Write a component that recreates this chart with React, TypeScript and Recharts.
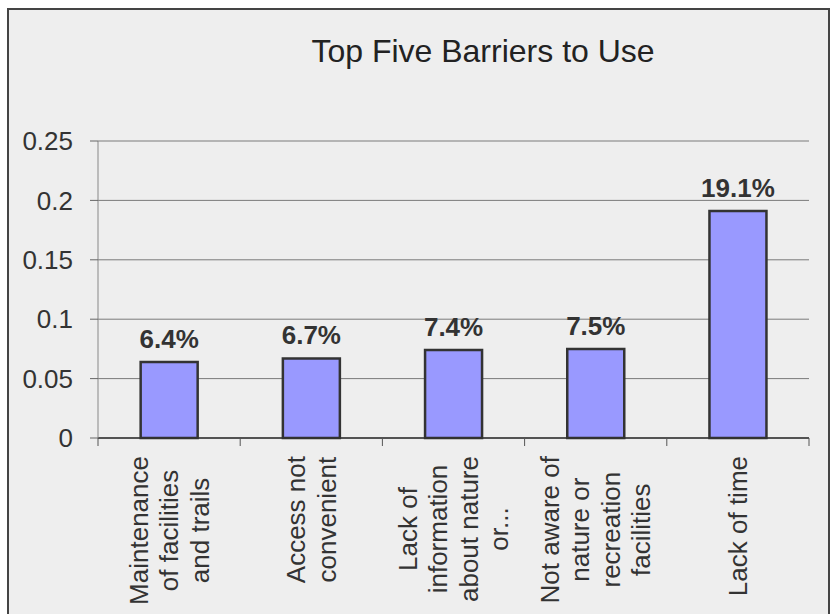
import { Bar, BarChart, CartesianGrid, LabelList, XAxis, YAxis } from "recharts";

const categories = [
  "Maintenance\nof facilities\nand trails",
  "Access not\nconvenient",
  "Lack of\ninformation\nabout nature\nor...",
  "Not aware of\nnature or\nrecreation\nfacilities",
  "Lack of time",
];
const barrierShares = [0.064, 0.067, 0.074, 0.075, 0.191];
const yTicks = [0, 0.05, 0.1, 0.15, 0.2, 0.25];

const chartTitle = "Top Five Barriers to Use";

const FONT = "'Liberation Sans', Arial, sans-serif";
const TICK_FONT_SIZE = 26;
const LINE_GAP = 30.5;

const data = categories.map((name, i) => ({ name, value: barrierShares[i] }));

let measureCtx: CanvasRenderingContext2D | null = null;
const measure = (text: string) => {
  if (!measureCtx) {
    measureCtx = document.createElement("canvas").getContext("2d");
  }
  if (!measureCtx) return text.length * 13;
  measureCtx.font = `${TICK_FONT_SIZE}px 'Liberation Sans', Arial, sans-serif`;
  return measureCtx.measureText(text).width;
};

const CategoryTick = (props: any) => {
  const { x, y, payload, index, width, visibleTicksCount } = props;
  const lines: string[] = String(payload.value).split("\n");
  const half =
    payload.offset && payload.offset > 0
      ? payload.offset
      : width / visibleTicksCount / 2;
  const longest = Math.max(...lines.map(measure));
  const cy = y + 10 + longest / 2;
  const axisY = y - 8;

  return (
    <g>
      <line x1={x - half} x2={x - half} y1={axisY} y2={y} stroke="#555" />
      {index === visibleTicksCount - 1 ? (
        <line x1={x + half} x2={x + half} y1={axisY} y2={y} stroke="#555" />
      ) : null}
      {lines.map((line, i) => {
        const lx = x + (i - (lines.length - 1) / 2) * LINE_GAP;
        return (
          <text
            key={line}
            x={lx}
            y={cy}
            transform={`rotate(-90, ${lx}, ${cy})`}
            textAnchor="middle"
            dominantBaseline="central"
            fontSize={TICK_FONT_SIZE}
            fontFamily={FONT}
            fill="#333"
          >
            {line}
          </text>
        );
      })}
    </g>
  );
};

const App = () => {
  return (
    <div
      style={{
        position: "absolute",
        left: 0,
        top: 0,
        width: 833,
        height: 614,
        background: "#fff",
        overflow: "hidden",
        fontFamily: FONT,
      }}
    >
      <div
        style={{
          position: "absolute",
          left: 7,
          top: 8,
          width: 823,
          height: 700,
          boxSizing: "border-box",
          border: "2px solid #444",
          background: "#eeeeee",
        }}
      />
      <div
        style={{
          position: "absolute",
          left: 283,
          top: 35,
          width: 400,
          textAlign: "center",
          fontSize: 32,
          lineHeight: "32px",
          color: "#222",
        }}
      >
        {chartTitle}
      </div>
      <div style={{ position: "absolute", left: 0, top: 0 }}>
        <BarChart
          width={833}
          height={614}
          data={data}
          margin={{ top: 141, right: 24, bottom: 0, left: 18 }}
          barCategoryGap="30%"
        >
          <CartesianGrid vertical={false} stroke="#7a7a7a" />
          <XAxis
            dataKey="name"
            height={176}
            interval={0}
            tickLine={false}
            tickSize={8}
            tickMargin={0}
            axisLine={{ stroke: "#333", strokeWidth: 1.5 }}
            tick={<CategoryTick />}
          />
          <YAxis
            width={80}
            domain={[0, 0.25]}
            ticks={yTicks}
            interval={0}
            tickSize={8}
            tickMargin={17}
            axisLine={{ stroke: "#888" }}
            tickLine={{ stroke: "#666" }}
            tick={{ fill: "#333", fontSize: TICK_FONT_SIZE, fontFamily: FONT }}
          />
          <Bar
            dataKey="value"
            fill="#9999ff"
            stroke="#333"
            strokeWidth={2.5}
            isAnimationActive={false}
          >
            <LabelList
              dataKey="value"
              position="top"
              offset={14}
              formatter={(v: any) => `${(Number(v) * 100).toFixed(1)}%`}
              fill="#333"
              fontSize={26}
              fontWeight="bold"
              fontFamily={FONT}
            />
          </Bar>
        </BarChart>
      </div>
    </div>
  );
};

export default App;
